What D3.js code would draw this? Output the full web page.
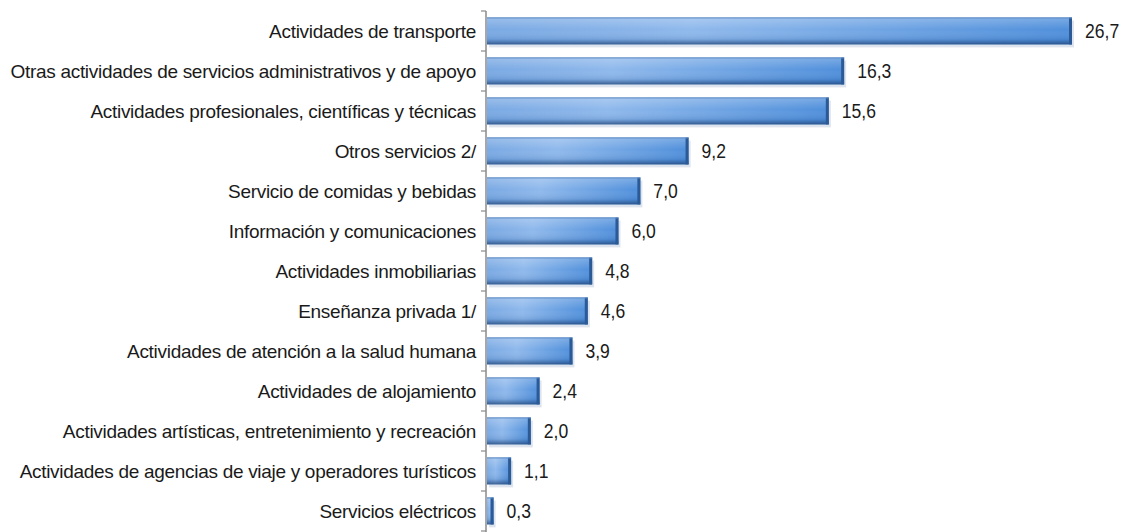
<!DOCTYPE html>
<html>
<head>
<meta charset="utf-8">
<script src="https://cdn.jsdelivr.net/npm/d3@7"></script>
<style>
  html, body { margin: 0; padding: 0; background: #fff; }
  svg { display: block; }
  text { font-family: "Liberation Sans", Arial, sans-serif; fill: #1a1a1a; }
</style>
</head>
<body>
<svg id="chart" width="1145" height="532"></svg>
<script>
// Sector names (top to bottom) and their shares, in percent
const categories = [
  "Actividades de transporte",
  "Otras actividades de servicios administrativos y de apoyo",
  "Actividades profesionales, científicas y técnicas",
  "Otros servicios 2/",
  "Servicio de comidas y bebidas",
  "Información y comunicaciones",
  "Actividades inmobiliarias",
  "Enseñanza privada 1/",
  "Actividades de atención a la salud humana",
  "Actividades de alojamiento",
  "Actividades artísticas, entretenimiento y recreación",
  "Actividades de agencias de viaje y operadores turísticos",
  "Servicios eléctricos"
];
const values = [26.7, 16.3, 15.6, 9.2, 7.0, 6.0, 4.8, 4.6, 3.9, 2.4, 2.0, 1.1, 0.3];
const valueLabels = values.map(v => v.toFixed(1).replace(".", ","));

const svg = d3.select("#chart");
const margin = { top: 11, left: 487 };
const height = 532;

const x = d3.scaleLinear().domain([0, 26.7]).range([margin.left, 1072]);
const y = d3.scaleBand().domain(categories)
  .range([margin.top, margin.top + 40 * categories.length])
  .paddingInner(0.33).paddingOuter(0.165);

// Bar fill: light-to-mid blue across, darker at the edges
const defs = svg.append("defs");
const grad = defs.append("linearGradient").attr("id", "barFill").attr("x1", 0).attr("x2", 1).attr("y1", 0).attr("y2", 0);
grad.append("stop").attr("offset", "0%").attr("stop-color", "#7aa9e3");
grad.append("stop").attr("offset", "35%").attr("stop-color", "#8fb9ec");
grad.append("stop").attr("offset", "100%").attr("stop-color", "#4f8fdb");
const shade = defs.append("linearGradient").attr("id", "barShade").attr("x1", 0).attr("x2", 0).attr("y1", 0).attr("y2", 1);
shade.append("stop").attr("offset", "0%").attr("stop-color", "#ffffff").attr("stop-opacity", 0.25);
shade.append("stop").attr("offset", "45%").attr("stop-color", "#ffffff").attr("stop-opacity", 0);
shade.append("stop").attr("offset", "80%").attr("stop-color", "#1f4f8f").attr("stop-opacity", 0.15);
shade.append("stop").attr("offset", "100%").attr("stop-color", "#1d3f70").attr("stop-opacity", 0.75);

const rows = svg.append("g").selectAll("g").data(categories).join("g");
const barW = (d, i) => Math.max(1, x(values[i]) - x(0));

// soft drop shadow under each bar
rows.append("rect")
  .attr("x", x(0) + 2)
  .attr("y", d => y(d) + 3)
  .attr("width", barW)
  .attr("height", y.bandwidth())
  .attr("fill", "#9fb3cc").attr("opacity", 0.35);

rows.append("rect")
  .attr("x", x(0))
  .attr("y", d => y(d))
  .attr("width", barW)
  .attr("height", y.bandwidth())
  .attr("fill", "url(#barFill)");
rows.append("rect")
  .attr("x", x(0))
  .attr("y", d => y(d))
  .attr("width", barW)
  .attr("height", y.bandwidth())
  .attr("fill", "url(#barShade)");
// darker right end cap
rows.append("rect")
  .attr("x", (d, i) => x(values[i]) - 3)
  .attr("y", d => y(d))
  .attr("width", 3)
  .attr("height", y.bandwidth())
  .attr("fill", "#2c5a97");
rows.append("rect")
  .attr("x", x(0))
  .attr("y", d => y(d) - 0.5)
  .attr("width", barW)
  .attr("height", 1.5)
  .attr("fill", "#5d8ac4").attr("opacity", 0.7);

// value labels, slightly condensed
rows.append("text")
  .attr("transform", (d, i) => `translate(${x(values[i]) + 13},${y(d) + y.bandwidth() / 2}) scale(0.9,1)`)
  .attr("dy", "0.36em")
  .attr("font-size", 19.5)
  .attr("fill", "#262626")
  .text((d, i) => valueLabels[i]);

// category axis on the left
const axis = svg.append("g").attr("transform", `translate(${x(0) - 1},0)`);
axis.append("line").attr("x1", 0).attr("x2", 0).attr("y1", margin.top).attr("y2", height)
  .attr("stroke", "#8a8a8a").attr("stroke-width", 1.5);
const step = y.step();
axis.selectAll("line.tick").data(d3.range(categories.length + 1)).join("line")
  .attr("class", "tick")
  .attr("x1", -5).attr("x2", 0)
  .attr("y1", i => margin.top + i * step).attr("y2", i => margin.top + i * step)
  .attr("stroke", "#8a8a8a").attr("stroke-width", 1.2);

// category labels: tall, narrow lettering, right-aligned against the axis
const labelFont = 19;
const labels = svg.append("g").selectAll("text").data(categories).join("text")
  .attr("text-anchor", "end")
  .attr("font-size", labelFont)
  .attr("letter-spacing", -0.3)
  .attr("dy", "0.36em")
  .text(d => d);
const widest = d3.max(labels.nodes(), n => n.getComputedTextLength());
const sx = Math.min(1, 469 / widest);
labels.attr("transform", d => `translate(476,${y(d) + y.bandwidth() / 2}) scale(${sx},1)`);
</script>
</body>
</html>
